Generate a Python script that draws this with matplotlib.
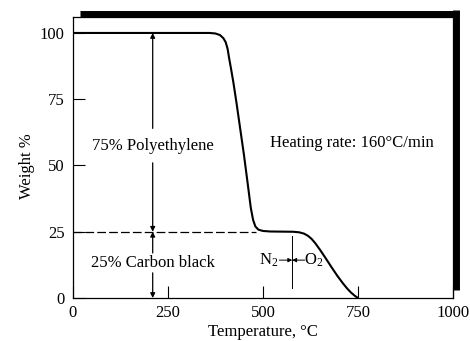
import matplotlib.pyplot as plt

plt.rcParams['font.family'] = ['Liberation Serif', 'DejaVu Serif']
plt.rcParams['mathtext.fontset'] = 'custom'
plt.rcParams['mathtext.rm'] = 'Liberation Serif'
plt.rcParams['mathtext.it'] = 'Liberation Serif:italic'

# TGA curve (temperature in degC, weight in %)
temperatura = [0, 360, 375, 387, 396, 402, 407, 411, 416, 422, 430, 440, 450, 460,
               468, 474, 480, 488, 500, 520, 580, 595, 608, 618, 628, 638, 650,
               665, 680, 695, 710, 722, 732, 742, 750]
peso = [100, 100, 99.8, 99.2, 98, 96.5, 94, 90.5, 86.5, 81.5, 74, 64, 54, 43,
        34, 29.5, 27, 25.8, 25.3, 25.1, 25, 24.8, 24.3, 23.5, 22.3, 20.6, 18.2,
        15, 11.7, 8.5, 5.6, 3.5, 2, 0.8, 0]

x_ticks = [0, 250, 500, 750, 1000]
y_ticks = [0, 25, 50, 75, 100]
nivel_residuo = 25
t_seta = 210       # posição das setas verticais
t_troca = 577      # troca N2 -> O2

fig = plt.figure(figsize=(4.7, 3.41), dpi=100)
ax = fig.add_axes([0.155, 0.126, 0.809, 0.824])
ax.set_xlim(0, 1000)
ax.set_ylim(0, 106)

ax.plot(temperatura, peso, color='black', lw=1.5, solid_capstyle='round')

# linha tracejada no nível de 25 %
linha, = ax.plot([0, 482], [nivel_residuo, nivel_residuo], color='black', lw=0.9)
linha.set_dashes((7, 2.5))

seta = dict(arrowstyle='-|>', color='black', lw=0.9, mutation_scale=7,
            shrinkA=0, shrinkB=0)
ax.annotate('', xy=(t_seta, 100), xytext=(t_seta, 64), arrowprops=seta)
ax.annotate('', xy=(t_seta, 25), xytext=(t_seta, 51), arrowprops=seta)
ax.annotate('', xy=(t_seta, 25), xytext=(t_seta, 17), arrowprops=seta)
ax.annotate('', xy=(t_seta, 0), xytext=(t_seta, 9.5), arrowprops=seta)

ax.text(t_seta, 57.5, '75% Polyethylene', ha='center', va='center', fontsize=12)
ax.text(t_seta, 13.2, '25% Carbon black', ha='center', va='center', fontsize=12)
ax.text(518, 58.5, 'Heating rate: 160°C/min', ha='left', va='center', fontsize=12)

# marcador N2 / O2
ax.plot([t_troca, t_troca], [3.8, 23.5], color='black', lw=0.7)
seta_fina = dict(arrowstyle='-|>', color='black', lw=0.7, mutation_scale=6,
                 shrinkA=0, shrinkB=0)
ax.annotate('', xy=(t_troca, 14.3), xytext=(543, 14.3), arrowprops=seta_fina)
ax.annotate('', xy=(t_troca, 14.3), xytext=(610, 14.3), arrowprops=seta_fina)
ax.text(540, 14.3, 'N$_2$', ha='right', va='center', fontsize=12)
ax.text(609, 14.3, 'O$_2$', ha='left', va='center', fontsize=12)

ax.set_xticks(x_ticks)
ax.set_yticks(y_ticks)
ax.tick_params(direction='in', length=8.5, width=0.8, labelsize=12)
ax.tick_params(axis='y', pad=6)
ax.tick_params(axis='x', pad=5)
ax.set_xlabel('Temperature, °C', fontsize=12, labelpad=2)
ax.set_ylabel('Weight %', fontsize=12)
ax.yaxis.set_label_coords(-0.10, 0.47)

# moldura: superior e direita grossas (sombra da figura escaneada)
for lado in ['left', 'bottom', 'top', 'right']:
    ax.spines[lado].set_linewidth(0.9)
ax.plot([0.018, 1.016], [1.0125, 1.0125], transform=ax.transAxes, color='black',
        lw=5, clip_on=False, solid_capstyle='butt')
ax.plot([1.007, 1.007], [0.028, 1.025], transform=ax.transAxes, color='black',
        lw=5, clip_on=False, solid_capstyle='butt')

fig.savefig('out.png', dpi=100)
